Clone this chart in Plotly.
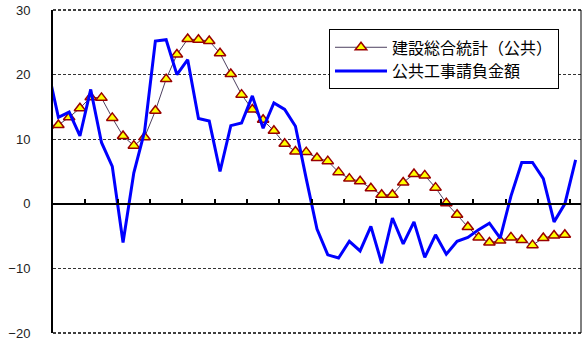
import plotly.graph_objects as go

# month index (-1 is a partial, clipped leading point)
months = list(range(-1, 49))

# 建設総合統計（公共） y/y % (last month not yet available)
construction = [12.1, 12.2, 13.4, 14.8, 16.5, 16.4, 13.3, 10.5, 9.0, 10.3,
                14.4, 19.3, 23.1, 25.5, 25.4, 25.2, 23.3, 20.1, 16.9, 14.6,
                13.0, 11.3, 9.3, 8.1, 8.0, 7.1, 6.6, 4.9, 3.9, 3.5,
                2.4, 1.4, 1.4, 3.3, 4.6, 4.4, 2.5, 0.1, -1.7, -3.6,
                -5.2, -6.0, -5.7, -5.2, -5.6, -6.4, -5.3, -4.9, -4.8]

# 公共工事請負金額 y/y %
contracts = [21.0, 13.4, 14.2, 10.5, 17.7, 9.5, 5.8, -6.0, 4.8, 11.2,
             25.2, 25.4, 20.0, 22.3, 13.2, 12.8, 5.0, 12.1, 12.5, 16.7,
             11.7, 15.6, 14.6, 12.0, 3.9, -3.9, -7.9, -8.4, -5.8, -7.3,
             -3.5, -9.2, -2.2, -6.2, -2.8, -8.3, -4.8, -7.8, -5.8, -5.2,
             -4.0, -3.0, -5.3, 1.2, 6.4, 6.4, 3.9, -2.8, 0.0, 6.8]

y_ticks = [-20, -10, 0, 10, 20, 30]
x_tick_marks = [m - 0.5 for m in range(3, 49, 3)]

name_a = "建設総合統計（公共）"
name_b = "公共工事請負金額"

fig = go.Figure()
fig.add_trace(go.Scatter(
    x=months[:len(construction)], y=construction, mode="lines+markers",
    name=name_a, legendgroup="a",
    line=dict(color="#4d4060", width=1),
    marker=dict(symbol="triangle-up", size=10, color="#ffff00",
                line=dict(color="#990000", width=1.5)),
))
fig.add_trace(go.Scatter(
    x=months, y=contracts, mode="lines", name=name_b, legendgroup="b",
    line=dict(color="#0000ff", width=3),
))
# empty trace to host the zero-crossing category axis
fig.add_trace(go.Scatter(x=[], y=[], xaxis="x2", showlegend=False, hoverinfo="skip"))

xr = [-0.5, 48.5]
dash = "3px,2px"
fig.update_layout(
    width=582, height=343,
    margin=dict(l=53, r=1, t=10, b=10),
    paper_bgcolor="white", plot_bgcolor="white",
    showlegend=True,
    legend=dict(
        x=(329 - 53) / 528, y=0.94, xanchor="left", yanchor="top",
        bgcolor="white", bordercolor="black", borderwidth=1,
        font=dict(family="Noto Sans CJK JP", size=16, color="black"),
        itemwidth=52, tracegroupgap=0, traceorder="grouped",
        entrywidth=196, entrywidthmode="pixels",
    ),
    xaxis=dict(range=xr, showgrid=False, zeroline=False, showticklabels=False,
               showline=False, ticks=""),
    xaxis2=dict(range=xr, overlaying="x", anchor="free", position=0.4, side="top",
                showline=True, linecolor="black", linewidth=1.5,
                ticks="outside", ticklen=4, tickwidth=1.5, tickcolor="black",
                tickvals=x_tick_marks, showticklabels=False,
                showgrid=False, zeroline=False),
    yaxis=dict(range=[-20, 30], tickvals=y_ticks, showgrid=True,
               gridcolor="#333333", griddash=dash, gridwidth=1,
               zeroline=False, showline=True, linecolor="black", linewidth=2,
               ticks="", ticklabelstandoff=18,
               tickfont=dict(family="Liberation Sans", size=13, color="#222222")),
    shapes=[
        dict(type="line", xref="paper", yref="paper", x0=1, x1=1, y0=0, y1=1,
             line=dict(color="black", width=1)),
        dict(type="line", xref="paper", yref="paper", x0=0, x1=1, y0=1, y1=1,
             line=dict(color="black", width=1.5, dash=dash)),
        dict(type="line", xref="paper", yref="paper", x0=0, x1=1, y0=0, y1=0,
             line=dict(color="black", width=1.5, dash=dash)),
    ],
)

fig.write_html("out.html")
